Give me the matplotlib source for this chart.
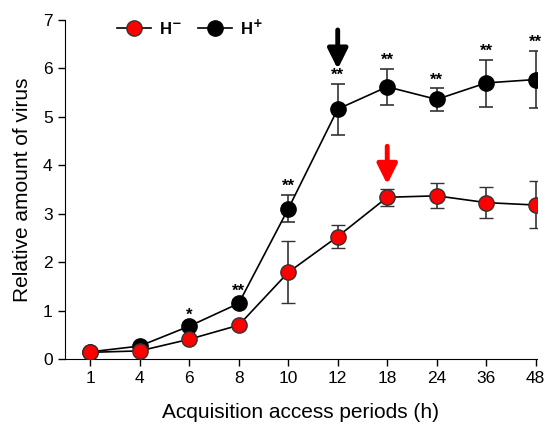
import numpy as np
import matplotlib
matplotlib.use("Agg")
import matplotlib.pyplot as plt
from matplotlib.lines import Line2D

plt.rcParams['font.family'] = ['Liberation Sans', 'DejaVu Sans']

# data
periods = ['1', '4', '6', '8', '10', '12', '18', '24', '36', '48']
h_minus = [0.14, 0.17, 0.41, 0.70, 1.79, 2.53, 3.34, 3.37, 3.23, 3.18]
h_minus_lo = [0.03, 0.03, 0.04, 0.05, 0.64, 0.23, 0.18, 0.26, 0.31, 0.48]
h_minus_hi = [0.03, 0.03, 0.04, 0.05, 0.64, 0.24, 0.18, 0.26, 0.33, 0.50]
h_plus = [0.15, 0.27, 0.68, 1.15, 3.10, 5.16, 5.62, 5.36, 5.70, 5.77]
h_plus_lo = [0.03, 0.05, 0.06, 0.08, 0.27, 0.53, 0.37, 0.24, 0.49, 0.58]
h_plus_hi = [0.03, 0.05, 0.06, 0.08, 0.29, 0.52, 0.37, 0.23, 0.47, 0.59]
stars = ['', '', '*', '**', '**', '**', '**', '**', '**', '**']

x = np.arange(len(periods))

fig = plt.figure(figsize=(5.47, 4.24), dpi=100)
ax = fig.add_axes([0.118, 0.153, 0.864, 0.8])

ax.errorbar(x, h_plus, yerr=[h_plus_lo, h_plus_hi], color='black', lw=1.2,
            marker='o', ms=11, mfc='black', mec='black', ecolor='#333333',
            elinewidth=1.2, capsize=5, capthick=1.2, zorder=3)
ax.errorbar(x, h_minus, yerr=[h_minus_lo, h_minus_hi], color='black', lw=1.2,
            marker='o', ms=11, mfc='red', mec='#333333', mew=1, ecolor='#333333',
            elinewidth=1.2, capsize=5, capthick=1.2, zorder=4)

# significance marks above the H+ error bars
for i in range(len(x)):
    if stars[i]:
        ax.text(x[i], h_plus[i] + h_plus_hi[i] + 0.02, stars[i], ha='center', va='bottom',
                fontsize=12, fontweight='bold')

# arrows
ax.annotate('', xy=(5, 5.93), xytext=(5, 6.85),
            arrowprops=dict(arrowstyle='-|>', color='black', lw=3.5, mutation_scale=30))
ax.annotate('', xy=(6, 3.55), xytext=(6, 4.45),
            arrowprops=dict(arrowstyle='-|>', color='red', lw=3.5, mutation_scale=30))

ax.set_xlim(-0.52, 9.03)
ax.set_ylim(0, 7)
ax.set_xticks(x)
ax.set_xticklabels(periods)
ax.set_yticks(range(0, 8))
ax.tick_params(labelsize=12.5, length=5, width=1)
ax.spines['top'].set_visible(False)
ax.spines['right'].set_visible(False)
ax.set_xlabel('Acquisition access periods (h)', fontsize=15, labelpad=12)
ax.set_ylabel('Relative amount of virus', fontsize=15, labelpad=8)

handles = [Line2D([], [], color='black', lw=1.2, marker='o', ms=11, mfc='red', mec='#333333'),
           Line2D([], [], color='black', lw=1.2, marker='o', ms=11, mfc='black', mec='black')]
labels = ['H$^{\\mathbf{-}}$', 'H$^{\\mathbf{+}}$']
ax.legend(handles, labels, loc='upper left', bbox_to_anchor=(0.08, 1.05),
          ncol=2, frameon=False, handlelength=2.0, columnspacing=1.0,
          handletextpad=0.5, prop={'weight': 'bold', 'size': 12})

fig.savefig('out.png', dpi=100)
